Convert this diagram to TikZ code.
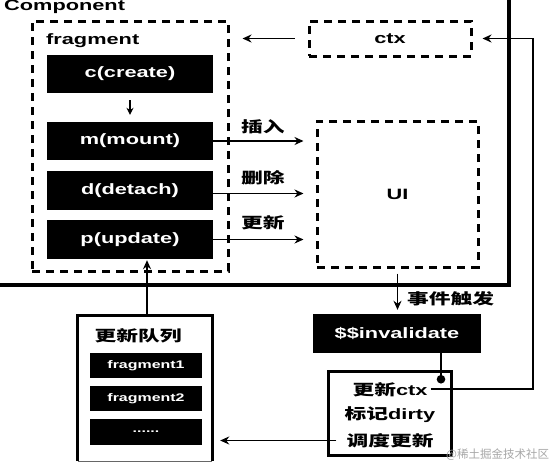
\documentclass[tikz,border=0pt]{standalone}
\usepackage{fontspec}
\setmainfont{Liberation Sans}[FakeStretch=1.45]
\newfontfamily\cjk{Noto Sans CJK SC}[FakeStretch=1.45]
\newfontfamily\cjkplain{Noto Sans CJK SC}
\usetikzlibrary{arrows.meta}
\tikzset{
  lbl/.style={font=\fontsize{15}{18}\selectfont\bfseries, inner sep=0pt},
  blackbox/.style={fill=black, text=white, inner sep=0pt, minimum width=166pt, minimum height=38pt, font=\fontsize{15}{18}\selectfont\bfseries},
  qbox/.style={fill=black, text=white, inner sep=0pt, minimum width=112pt, minimum height=25pt, font=\fontsize{11}{13}\selectfont\bfseries},
  dbox/.style={draw, line width=3pt, dash pattern=on 8pt off 6pt, inner sep=0pt},
  conn/.style={line width=1.5pt, -{Stealth[length=9pt,width=8pt]}},
}
\begin{document}
\begin{tikzpicture}[x=1pt,y=-1pt]
\useasboundingbox (0,0) rectangle (553,466);
% Component outer box
\draw[line width=3.2pt] (-5,285) -- (509,285) -- (509,-5);
\node[lbl, anchor=base west] (comp) at (4,10.5) {Component};
% fragment
\node[dbox, minimum width=196pt, minimum height=250pt] (frag) at (130,146) {};
\node[lbl, anchor=base west] (fraglbl) at (46,44) {fragment};
\node[blackbox] (c) at (130,74) {c(create)};
\node[blackbox] (m) at (130,141) {m(mount)};
\node[blackbox, minimum height=39pt] (d) at (130,190.5) {d(detach)};
\node[blackbox, minimum height=39pt] (p) at (130,239.5) {p(update)};
\draw[line width=1.5pt, -{Stealth[length=7pt,width=7pt]}, shorten <=7pt, shorten >=7pt] (c) -- (m);
% ctx
\node[dbox, minimum width=162pt, minimum height=35pt] (ctx) at (390,38.5) {};
\node[lbl] (ctxt) at (390,38.5) {ctx};
% UI
\node[dbox, minimum width=161pt, minimum height=146pt] (ui) at (397.5,194) {};
\node[lbl] (uit) at (397.5,194) {UI};
% arrows to UI
\draw[conn, shorten >=12pt] (m.east) -- (m.east -| ui.west) coordinate (mu);
\draw[conn, shorten >=12pt] ([yshift=-3pt]d.east) -- ([yshift=-3pt]d.east -| ui.west) coordinate (du);
\draw[conn, shorten >=12pt] (p.east) -- (p.east -| ui.west) coordinate (pu);
\node[lbl, font=\fontsize{15}{18}\selectfont\cjk\bfseries, anchor=west] (l1) at (241,127) {插入};
\node[lbl, font=\fontsize{15}{18}\selectfont\cjk\bfseries, anchor=west] (l2) at (241,178) {删除};
\node[lbl, font=\fontsize{15}{18}\selectfont\cjk\bfseries, anchor=west] (l3) at (241,222.5) {更新};
% ctx -> fragment
\draw[conn, shorten <=13pt, shorten >=13pt] (ctx.west) -- (ctx.west -| frag.east);
% invalidate
\node[blackbox, minimum width=168pt, minimum height=39pt] (inv) at (397,333.5) {\$\$invalidate};
\draw[conn, shorten <=5pt, shorten >=4pt] (ui.south) -- (ui.south |- inv.north);
\node[lbl, font=\fontsize{15}{18}\selectfont\cjk\bfseries, anchor=west] (ev) at (407,299) {事件触发};
% action box
\node[draw, line width=3.2pt, minimum width=123pt, minimum height=84pt, inner sep=0pt] (act) at (390,413.5) {};
\node[lbl] (t1) at (390,390) {{\cjk 更新}ctx};
\node[lbl] (t2) at (390,414.5) {{\cjk 标记}dirty};
\node[lbl, font=\fontsize{15}{18}\selectfont\cjk\bfseries] (t3) at (390,440.5) {调度更新};
\coordinate (dotend) at (441,383.5);
\draw[line width=1.5pt, -{Circle[length=8.5pt]}] (inv.south -| dotend) -- (dotend);
% ctx feedback line
\coordinate (rc) at (533,389);
\draw[conn, shorten >=10pt] ([xshift=3pt]t1.east |- rc) -- (rc) -- (rc |- ctx.east) -- (ctx.east);
% queue
\node[minimum width=134pt, minimum height=145pt, inner sep=0pt] (queue) at (145,388.5) {};
\draw[line width=3pt] (queue.south west) -- (queue.north west) -- (queue.north east) -- (queue.south east);
\draw[line width=0.8pt, black!60] (queue.south west) -- (queue.south east);
\node[lbl, font=\fontsize{15}{18}\selectfont\cjk\bfseries] (qt) at (138,336) {更新队列};
\node[qbox] (f1) at (146,365.5) {fragment1};
\node[qbox] (f2) at (146,398.5) {fragment2};
\node[qbox, minimum height=26pt] (f3) at (146,432) {......};
\draw[conn, shorten >=1pt] (queue.north -| 147,0) -- (147,0 |- p.south);
\draw[conn, shorten <=10pt, shorten >=8pt] (t3.west) -- (t3.west -| queue.east);
% watermark
\node[font=\fontsize{11.5}{14}\selectfont\cjkplain, text=black!35, anchor=west, inner sep=0pt] (wm) at (446,455) {@稀土掘金技术社区};
\end{tikzpicture}
\end{document}
